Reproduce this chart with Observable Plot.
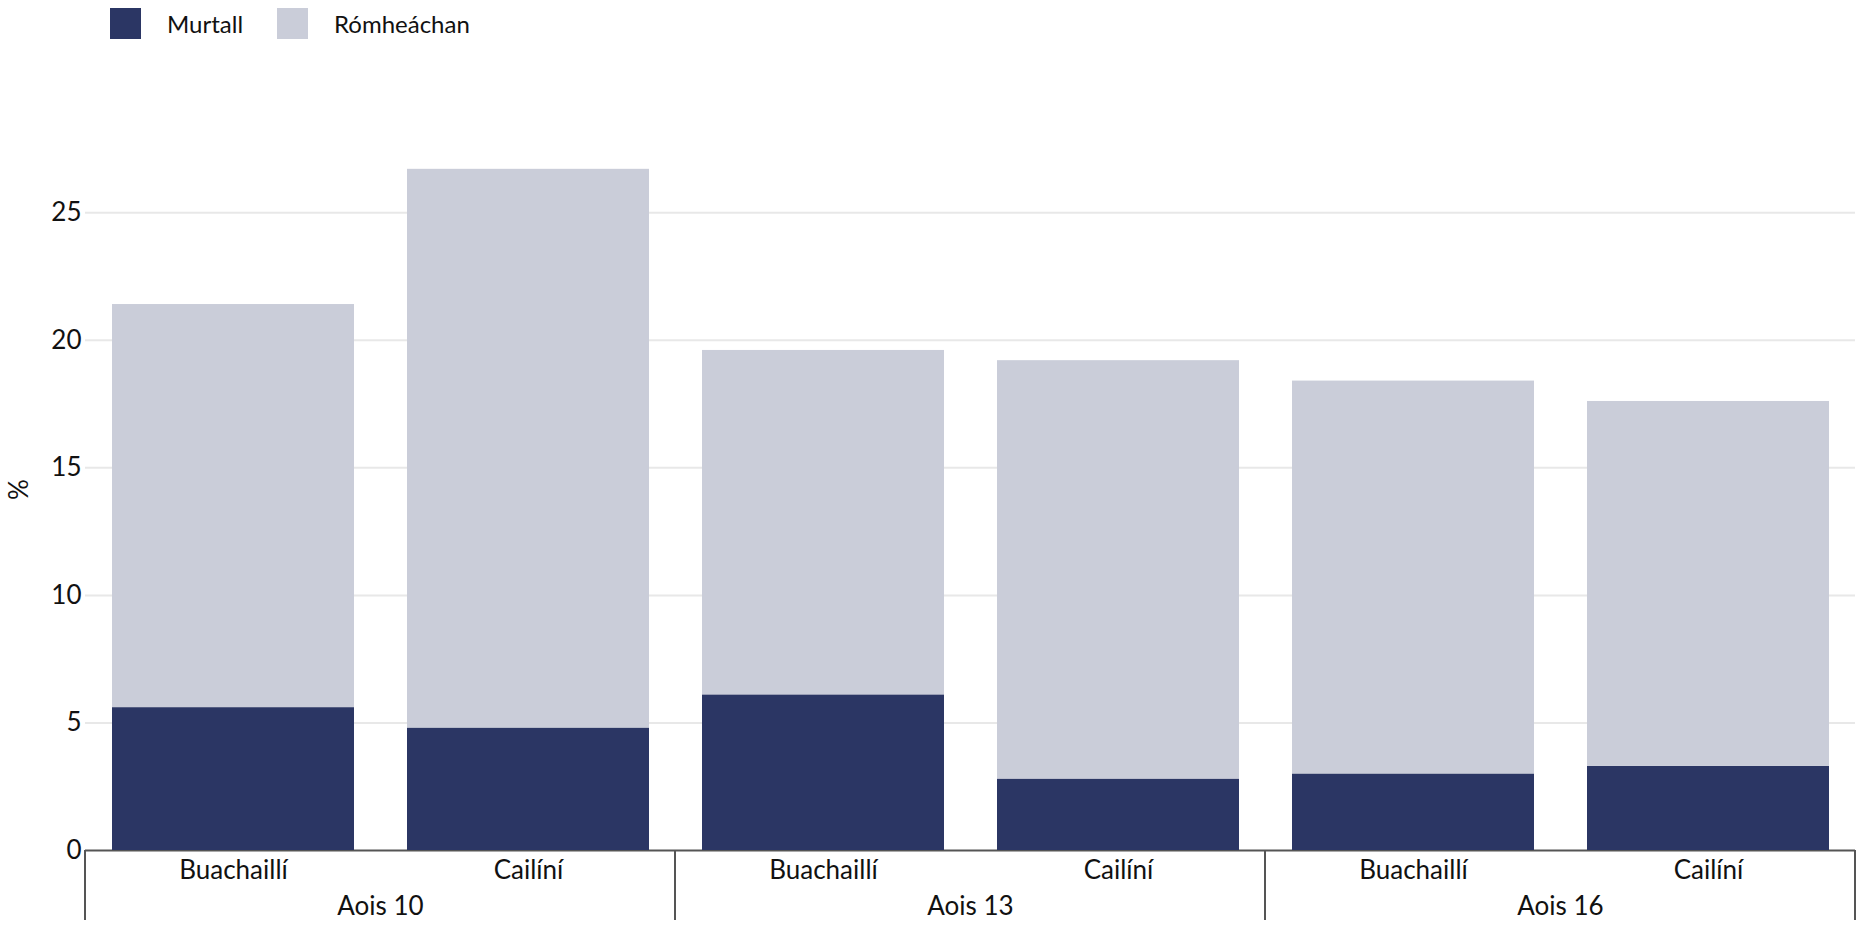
<!DOCTYPE html>
<html><head><meta charset="utf-8">
<script src="https://cdn.jsdelivr.net/npm/d3@7"></script>
<script src="https://cdn.jsdelivr.net/npm/@observablehq/plot@0.6"></script>
<style>
body{margin:0;background:#fff;font-family:Lato, "Noto Sans", sans-serif;}
#legend{height:47px;display:flex;align-items:center;padding-left:110px;box-sizing:border-box;padding-top:0px;}
.item{display:flex;align-items:center;margin-right:34px;}
.sw{width:31px;height:31px;margin-right:26px;}
.lt{font-size:24px;color:#111;}
#chart svg{display:block;}
</style></head><body>
<div id="legend"></div>
<div id="chart"></div>
<script>
const ages = ["Aois 10", "Aois 13", "Aois 16"];
const sexes = ["Buachaillí", "Cailíní"];
const types = ["Murtall", "Rómheáchan"];
const colors = ["#2b3664", "#cacdd9"];
// values in order: Aois10 B, Aois10 C, Aois13 B, Aois13 C, Aois16 B, Aois16 C
const murtall = [5.6, 4.8, 6.1, 2.8, 3.0, 3.3];
const romheachan = [15.8, 21.9, 13.5, 16.4, 15.4, 14.3];
const yTicks = [0, 5, 10, 15, 20, 25];

const data = [];
ages.forEach((a, i) => sexes.forEach((s, j) => {
  const k = i * 2 + j;
  data.push({age: a, sex: s, type: types[0], value: murtall[k]});
  data.push({age: a, sex: s, type: types[1], value: romheachan[k]});
}));

// legend
const lg = document.getElementById("legend");
types.forEach((t, i) => {
  const it = document.createElement("div"); it.className = "item";
  const sw = document.createElement("div"); sw.className = "sw"; sw.style.background = colors[i];
  const tx = document.createElement("span"); tx.className = "lt"; tx.textContent = t;
  it.appendChild(sw); it.appendChild(tx); lg.appendChild(it);
});

const plot = Plot.plot({
  width: 1857, height: 882,
  marginLeft: 84, marginRight: 2, marginTop: 81, marginBottom: 79,
  style: {fontFamily: "Lato, 'Noto Sans', sans-serif", fontSize: "26px", color: "#111", background: "#fff", overflow: "visible"},
  fx: {domain: ages, padding: 0, label: null},
  x: {domain: sexes, paddingInner: 0.18, paddingOuter: 0.09, label: null},
  y: {domain: [0, 28.3], label: "%"},
  color: {domain: types, range: colors},
  marks: [
    Plot.gridY(yTicks.filter(d => d > 0), {stroke: "#e8e8e8", strokeOpacity: 1, strokeWidth: 2}),
    Plot.axisY({ticks: yTicks, tickSize: 0, tickPadding: 4, label: "%", labelAnchor: "center", labelOffset: 76, labelArrow: "none"}),
    Plot.axisX({tickSize: 0, tickPadding: 10, label: null}),
    Plot.axisFx({anchor: "bottom", tickSize: 0, tickPadding: 46, label: null}),
    Plot.ruleY([0], {stroke: "#555", strokeWidth: 2}),
    Plot.barY(data, {fx: "age", x: "sex", y: "value", fill: "type"})
  ]
});
document.getElementById("chart").appendChild(plot);

// group separators below the axis, positioned via the plot's own scales
const fx = plot.scale("fx");
const ys = plot.scale("y");
const y0 = ys.apply(0);
const edges = ages.map(a => fx.apply(a));
edges.push(fx.apply(ages[ages.length - 1]) + fx.bandwidth);
d3.select(plot).append("g")
  .selectAll("line").data(edges).join("line")
  .attr("x1", d => d).attr("x2", d => d)
  .attr("y1", y0).attr("y2", y0 + 70)
  .attr("stroke", "#555").attr("stroke-width", 2);
</script>
</body></html>
